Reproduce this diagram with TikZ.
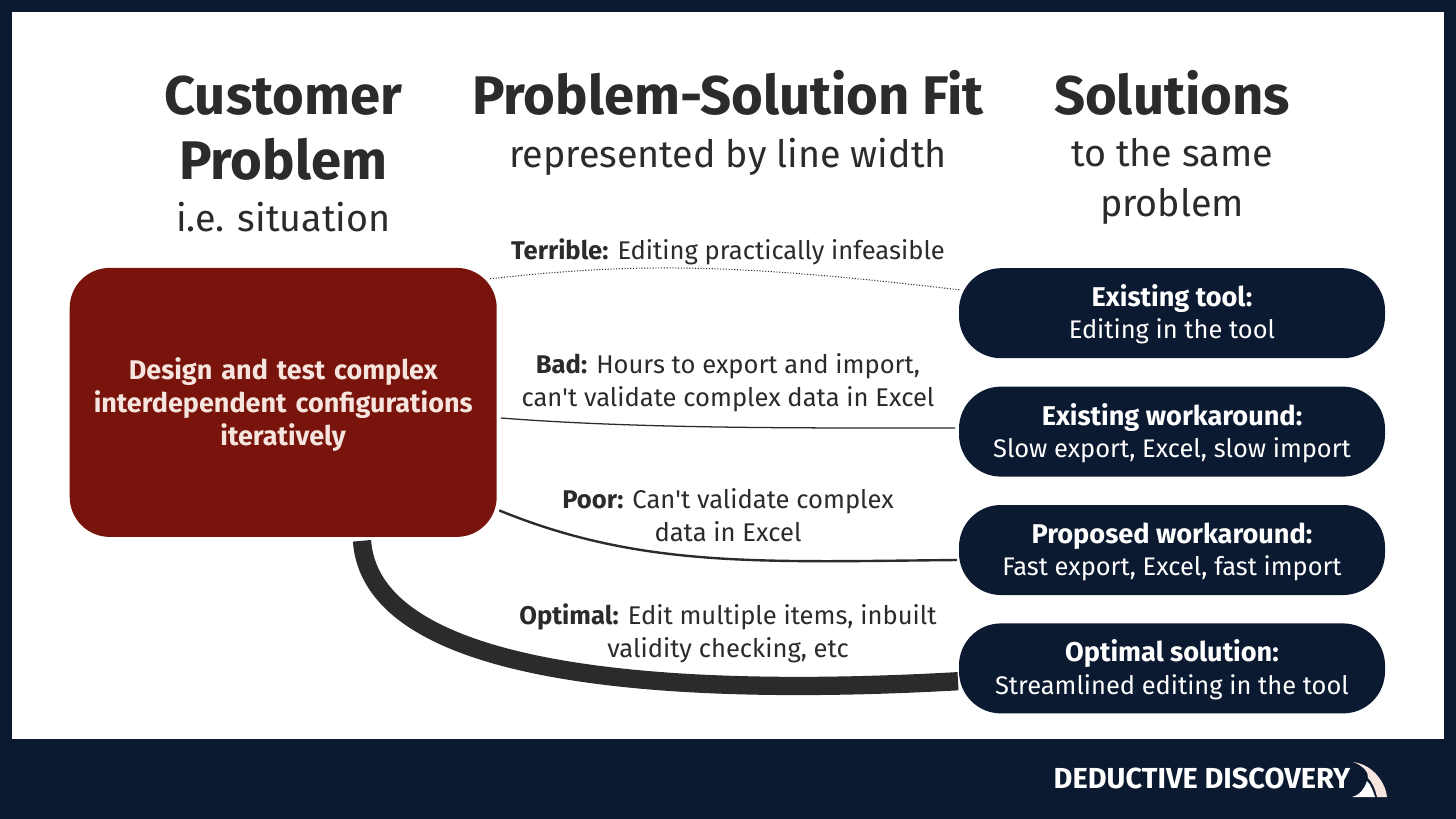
\documentclass[tikz,border=0pt]{standalone}
\usepackage{fontspec}
\setmainfont{Fira Sans}
\newfontfamily\straightfont{Fira Sans}
\usepackage{tikz}
\usetikzlibrary{positioning}
\definecolor{mynavy}{RGB}{11,26,48}
\definecolor{myred}{RGB}{120,20,12}
\definecolor{myink}{RGB}{43,43,43}
\definecolor{myblush}{RGB}{246,228,222}
\newcommand{\apos}{{\straightfont'}}
\newcommand{\solhead}[1]{\rule{0pt}{17.5pt}{\fontsize{19.3}{23}\selectfont\bfseries #1}}
\tikzstyle{problem} = [rectangle, fill=myred, text=myblush, text width=10.4cm, align=center, rounded corners=1cm, minimum width=10.675cm, minimum height=6.725cm, font=\fontsize{19.2}{23.5}\selectfont\bfseries]
\tikzstyle{solution} = [rectangle, fill=mynavy, text=white, align=center, rounded corners=1.05cm, minimum width=10.65cm, minimum height=2.25cm, font=\fontsize{18.1}{23}\selectfont]
\tikzstyle{heading} = [align=center, text=myink, font=\fontsize{38.7}{46.2}\selectfont\bfseries]
\tikzstyle{subheading} = [align=center, text=myink, font=\fontsize{26.8}{35.6}\selectfont]
\tikzstyle{note} = [align=center, text=myink, font=\fontsize{18.2}{23.5}\selectfont]
\tikzstyle{fit} = [draw=myink]

\begin{document}
\begin{tikzpicture}[node distance=2.96cm]
        % Frame
        \fill [mynavy] (0,0) rectangle (36.4,-20.475);
        \fill [white] (0.3,-0.3) rectangle (36.1,-18.475);
        \path [use as bounding box] (0,0) rectangle (36.4,-20.475);

        % Customer problem
        \node [problem] (problem) at (7.08,-10.06) {\rule{0pt}{18pt}Design and test complex\\ interdependent configurations\\ iteratively};

        % Solutions
        \node [solution] (existing) at (29.3,-7.83) {\solhead{Existing tool:}\\ Editing in the tool};
        \node [solution, below of=existing] (workaround) {\solhead{Existing workaround:}\\ Slow export, Excel, slow import};
        \node [solution, below of=workaround] (proposed) {\solhead{Proposed workaround:}\\ Fast export, Excel, fast import};
        \node [solution, below of=proposed] (optimal) {\solhead{Optimal solution:}\\ Streamlined editing in the tool};

        % Column headings
        \node [heading] (customer) at (7.08,-3.2) {Customer\\ Problem};
        \node [subheading, below of=customer, node distance=2.22cm] (situation) {i.e. situation};
        \node [heading] (fit) at (18.2,-2.33) {Problem-Solution Fit};
        \node [subheading, below of=fit, node distance=1.58cm] (width) {represented by line width};
        \node [heading] (solutions) at (29.3,-2.33) {Solutions};
        \node [subheading, below of=solutions, node distance=2.2cm] (same) {to the same\\ problem};

        % Fit labels
        \node [note] (terrible) at (18.2,-6.3) {\textbf{Terrible:} Editing practically infeasible};
        \node [note] (bad) at (18.2,-9.57) {\textbf{Bad:} Hours to export and import,\\ can\apos t validate complex data in Excel};
        \node [note] (poor) at (18.2,-12.87) {\textbf{Poor:} Can\apos t validate complex\\ data in Excel};
        \node [note] (good) at (18.2,-15.83) {\textbf{Optimal:} Edit multiple items, inbuilt\\ validity checking, etc};

        % Free ends of the connecting lines
        \coordinate (terribleA) at (12.25,-6.97);
        \coordinate (terribleB) at (24.02,-7.25);
        \coordinate (badA) at (12.52,-10.45);
        \coordinate (badB) at (23.88,-10.7);
        \coordinate (poorA) at (12.48,-12.76);
        \coordinate (poorB) at (23.92,-14);
        \coordinate (goodA) at (9.05,-13.52);
        \coordinate (goodB) at (23.95,-17.03);

        % Connecting lines
        \draw [fit, line width=0.7pt, dash pattern=on 0.8pt off 1.2pt] (terribleA) .. controls (16,-6.55) and (18.5,-6.6) .. (terribleB);
        \draw [fit, line width=0.9pt] (badA) .. controls (16,-10.72) and (20,-10.7) .. (badB);
        \draw [fit, line width=1.7pt] (poorA) .. controls (16,-14.2) and (19,-14.05) .. (poorB);
        \draw [fit, line width=13pt] (goodA) .. controls (9.3,-17) and (17,-17.42) .. (goodB);

        % Logo
        \node [text=white, font=\fontsize{20.6}{22}\selectfont\bfseries] (brand) at (30.05,-19.45) {DEDUCTIVE DISCOVERY};
        \fill [myblush] (33.825,-19.05) .. controls (34.375,-19.125) and (34.65,-19.625) .. (34.675,-19.925) -- (34.425,-19.925) .. controls (34.375,-19.7) and (34.3,-19.55) .. (34.2,-19.45) .. controls (34.225,-19.3) and (34.05,-19.125) .. cycle;
        \fill [white] (33.8,-19.925) .. controls (34,-19.875) and (34.125,-19.7) .. (34.175,-19.525) .. controls (34.275,-19.625) and (34.325,-19.775) .. (34.375,-19.925) -- cycle;
\end{tikzpicture}
\end{document}
